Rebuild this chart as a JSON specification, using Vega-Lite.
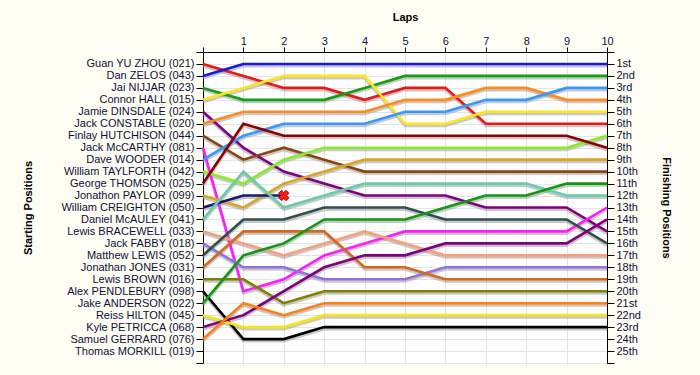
{
  "$schema": "https://vega.github.io/schema/vega-lite/v6.json",
  "autosize": "none",
  "width": 404,
  "height": 311,
  "padding": {"left": 203, "top": 52, "right": 93, "bottom": 12},
  "background": "#fdfdf3",
  "config": {
    "view": {"stroke": null, "fill": "#ffffff"},
    "axis": {"labelFont": "Liberation Sans", "labelFontSize": 11, "labelColor": "#10103a", "titleFont": "Liberation Sans", "titleFontSize": 11, "titleFontWeight": "bold", "titleColor": "#000000", "domainColor": "#000000", "tickColor": "#000000", "gridColor": "#e4e4e4", "gridWidth": 1}
  },
  "datasets": {
    "laps": [
      {"d":"021","l":0,"p":1},{"d":"021","l":1,"p":2},{"d":"021","l":2,"p":3},{"d":"021","l":3,"p":3},{"d":"021","l":4,"p":4},{"d":"021","l":5,"p":3},{"d":"021","l":6,"p":3},{"d":"021","l":7,"p":6},{"d":"021","l":8,"p":6},{"d":"021","l":9,"p":6},{"d":"021","l":10,"p":6},
      {"d":"043","l":0,"p":2},{"d":"043","l":1,"p":1},{"d":"043","l":2,"p":1},{"d":"043","l":3,"p":1},{"d":"043","l":4,"p":1},{"d":"043","l":5,"p":1},{"d":"043","l":6,"p":1},{"d":"043","l":7,"p":1},{"d":"043","l":8,"p":1},{"d":"043","l":9,"p":1},{"d":"043","l":10,"p":1},
      {"d":"023","l":0,"p":3},{"d":"023","l":1,"p":4},{"d":"023","l":2,"p":4},{"d":"023","l":3,"p":4},{"d":"023","l":4,"p":3},{"d":"023","l":5,"p":2},{"d":"023","l":6,"p":2},{"d":"023","l":7,"p":2},{"d":"023","l":8,"p":2},{"d":"023","l":9,"p":2},{"d":"023","l":10,"p":2},
      {"d":"015","l":0,"p":4},{"d":"015","l":1,"p":3},{"d":"015","l":2,"p":2},{"d":"015","l":3,"p":2},{"d":"015","l":4,"p":2},{"d":"015","l":5,"p":6},{"d":"015","l":6,"p":6},{"d":"015","l":7,"p":5},{"d":"015","l":8,"p":5},{"d":"015","l":9,"p":5},{"d":"015","l":10,"p":5},
      {"d":"024","l":0,"p":5},{"d":"024","l":1,"p":8},{"d":"024","l":2,"p":10},{"d":"024","l":3,"p":11},{"d":"024","l":4,"p":12},{"d":"024","l":5,"p":12},{"d":"024","l":6,"p":12},{"d":"024","l":7,"p":13},{"d":"024","l":8,"p":13},{"d":"024","l":9,"p":13},{"d":"024","l":10,"p":15},
      {"d":"020","l":0,"p":6},{"d":"020","l":1,"p":5},{"d":"020","l":2,"p":5},{"d":"020","l":3,"p":5},{"d":"020","l":4,"p":5},{"d":"020","l":5,"p":4},{"d":"020","l":6,"p":4},{"d":"020","l":7,"p":3},{"d":"020","l":8,"p":3},{"d":"020","l":9,"p":4},{"d":"020","l":10,"p":4},
      {"d":"044","l":0,"p":7},{"d":"044","l":1,"p":9},{"d":"044","l":2,"p":8},{"d":"044","l":3,"p":9},{"d":"044","l":4,"p":10},{"d":"044","l":5,"p":10},{"d":"044","l":6,"p":10},{"d":"044","l":7,"p":10},{"d":"044","l":8,"p":10},{"d":"044","l":9,"p":10},{"d":"044","l":10,"p":10},
      {"d":"081","l":0,"p":8},{"d":"081","l":1,"p":20},{"d":"081","l":2,"p":19},{"d":"081","l":3,"p":17},{"d":"081","l":4,"p":16},{"d":"081","l":5,"p":15},{"d":"081","l":6,"p":15},{"d":"081","l":7,"p":15},{"d":"081","l":8,"p":15},{"d":"081","l":9,"p":15},{"d":"081","l":10,"p":13},
      {"d":"014","l":0,"p":9},{"d":"014","l":1,"p":7},{"d":"014","l":2,"p":6},{"d":"014","l":3,"p":6},{"d":"014","l":4,"p":6},{"d":"014","l":5,"p":5},{"d":"014","l":6,"p":5},{"d":"014","l":7,"p":4},{"d":"014","l":8,"p":4},{"d":"014","l":9,"p":3},{"d":"014","l":10,"p":3},
      {"d":"042","l":0,"p":10},{"d":"042","l":1,"p":11},{"d":"042","l":2,"p":9},{"d":"042","l":3,"p":8},{"d":"042","l":4,"p":8},{"d":"042","l":5,"p":8},{"d":"042","l":6,"p":8},{"d":"042","l":7,"p":8},{"d":"042","l":8,"p":8},{"d":"042","l":9,"p":8},{"d":"042","l":10,"p":7},
      {"d":"025","l":0,"p":11},{"d":"025","l":1,"p":6},{"d":"025","l":2,"p":7},{"d":"025","l":3,"p":7},{"d":"025","l":4,"p":7},{"d":"025","l":5,"p":7},{"d":"025","l":6,"p":7},{"d":"025","l":7,"p":7},{"d":"025","l":8,"p":7},{"d":"025","l":9,"p":7},{"d":"025","l":10,"p":8},
      {"d":"099","l":0,"p":12},{"d":"099","l":1,"p":13},{"d":"099","l":2,"p":11},{"d":"099","l":3,"p":10},{"d":"099","l":4,"p":9},{"d":"099","l":5,"p":9},{"d":"099","l":6,"p":9},{"d":"099","l":7,"p":9},{"d":"099","l":8,"p":9},{"d":"099","l":9,"p":9},{"d":"099","l":10,"p":9},
      {"d":"050","l":0,"p":13},{"d":"050","l":1,"p":12},{"d":"050","l":2,"p":12},
      {"d":"041","l":0,"p":14},{"d":"041","l":1,"p":10},{"d":"041","l":2,"p":13},{"d":"041","l":3,"p":12},{"d":"041","l":4,"p":11},{"d":"041","l":5,"p":11},{"d":"041","l":6,"p":11},{"d":"041","l":7,"p":11},{"d":"041","l":8,"p":11},{"d":"041","l":9,"p":12},{"d":"041","l":10,"p":12},
      {"d":"033","l":0,"p":15},{"d":"033","l":1,"p":16},{"d":"033","l":2,"p":17},{"d":"033","l":3,"p":16},{"d":"033","l":4,"p":15},{"d":"033","l":5,"p":16},{"d":"033","l":6,"p":17},{"d":"033","l":7,"p":17},{"d":"033","l":8,"p":17},{"d":"033","l":9,"p":17},{"d":"033","l":10,"p":17},
      {"d":"018","l":0,"p":16},{"d":"018","l":1,"p":18},{"d":"018","l":2,"p":18},{"d":"018","l":3,"p":19},{"d":"018","l":4,"p":19},{"d":"018","l":5,"p":19},{"d":"018","l":6,"p":18},{"d":"018","l":7,"p":18},{"d":"018","l":8,"p":18},{"d":"018","l":9,"p":18},{"d":"018","l":10,"p":18},
      {"d":"052","l":0,"p":17},{"d":"052","l":1,"p":14},{"d":"052","l":2,"p":14},{"d":"052","l":3,"p":13},{"d":"052","l":4,"p":13},{"d":"052","l":5,"p":13},{"d":"052","l":6,"p":14},{"d":"052","l":7,"p":14},{"d":"052","l":8,"p":14},{"d":"052","l":9,"p":14},{"d":"052","l":10,"p":16},
      {"d":"031","l":0,"p":18},{"d":"031","l":1,"p":15},{"d":"031","l":2,"p":15},{"d":"031","l":3,"p":15},{"d":"031","l":4,"p":18},{"d":"031","l":5,"p":18},{"d":"031","l":6,"p":19},{"d":"031","l":7,"p":19},{"d":"031","l":8,"p":19},{"d":"031","l":9,"p":19},{"d":"031","l":10,"p":19},
      {"d":"016","l":0,"p":19},{"d":"016","l":1,"p":19},{"d":"016","l":2,"p":21},{"d":"016","l":3,"p":20},{"d":"016","l":4,"p":20},{"d":"016","l":5,"p":20},{"d":"016","l":6,"p":20},{"d":"016","l":7,"p":20},{"d":"016","l":8,"p":20},{"d":"016","l":9,"p":20},{"d":"016","l":10,"p":20},
      {"d":"098","l":0,"p":20},{"d":"098","l":1,"p":24},{"d":"098","l":2,"p":24},{"d":"098","l":3,"p":23},{"d":"098","l":4,"p":23},{"d":"098","l":5,"p":23},{"d":"098","l":6,"p":23},{"d":"098","l":7,"p":23},{"d":"098","l":8,"p":23},{"d":"098","l":9,"p":23},{"d":"098","l":10,"p":23},
      {"d":"022","l":0,"p":21},{"d":"022","l":1,"p":17},{"d":"022","l":2,"p":16},{"d":"022","l":3,"p":14},{"d":"022","l":4,"p":14},{"d":"022","l":5,"p":14},{"d":"022","l":6,"p":13},{"d":"022","l":7,"p":12},{"d":"022","l":8,"p":12},{"d":"022","l":9,"p":11},{"d":"022","l":10,"p":11},
      {"d":"045","l":0,"p":22},{"d":"045","l":1,"p":23},{"d":"045","l":2,"p":23},{"d":"045","l":3,"p":22},{"d":"045","l":4,"p":22},{"d":"045","l":5,"p":22},{"d":"045","l":6,"p":22},{"d":"045","l":7,"p":22},{"d":"045","l":8,"p":22},{"d":"045","l":9,"p":22},{"d":"045","l":10,"p":22},
      {"d":"068","l":0,"p":23},{"d":"068","l":1,"p":22},{"d":"068","l":2,"p":20},{"d":"068","l":3,"p":18},{"d":"068","l":4,"p":17},{"d":"068","l":5,"p":17},{"d":"068","l":6,"p":16},{"d":"068","l":7,"p":16},{"d":"068","l":8,"p":16},{"d":"068","l":9,"p":16},{"d":"068","l":10,"p":14},
      {"d":"076","l":0,"p":24},{"d":"076","l":1,"p":21},{"d":"076","l":2,"p":22},{"d":"076","l":3,"p":21},{"d":"076","l":4,"p":21},{"d":"076","l":5,"p":21},{"d":"076","l":6,"p":21},{"d":"076","l":7,"p":21},{"d":"076","l":8,"p":21},{"d":"076","l":9,"p":21},{"d":"076","l":10,"p":21}
    ],
    "retired": [{"d":"050","l":2,"p":12}]
  },
  "layer": [
    {
      "data": {"name": "laps"},
      "mark": {"type": "line", "strokeWidth": 3, "color": "#9a9a9a", "opacity": 0.55},
      "encoding": {
        "x": {"field": "l", "type": "quantitative", "scale": {"domain": [0, 10], "nice": false, "zero": false}},
        "y": {"field": "p", "type": "quantitative", "scale": {"domain": [0, 26], "range": [2, 313], "nice": false, "zero": false}, "axis": null},
        "detail": {"field": "d", "type": "nominal"},
        "order": {"field": "l", "type": "quantitative"}
      }
    },
    {
      "data": {"name": "laps"},
      "mark": {"type": "line", "strokeWidth": 2.6},
      "encoding": {
        "x": {"field": "l", "type": "quantitative", "scale": {"domain": [0, 10], "nice": false, "zero": false},
          "axis": {"orient": "top", "values": [0,1,2,3,4,5,6,7,8,9,10], "labelExpr": "datum.value == 0 ? '' : datum.value", "title": "Laps", "titleY": -35, "titleBaseline": "middle", "grid": true, "tickSize": 5, "labelPadding": 1, "labelFlush": false}},
        "y": {"field": "p", "type": "quantitative", "scale": {"domain": [0, 26], "reverse": true, "nice": false, "zero": false},
          "axis": {"orient": "left", "values": [0,1,2,3,4,5,6,7,8,9,10,11,12,13,14,15,16,17,18,19,20,21,22,23,24,25,26],
            "labelExpr": "datum.value >= 1 && datum.value <= 25 ? ['Guan YU ZHOU (021)','Dan ZELOS (043)','Jai NIJJAR (023)','Connor HALL (015)','Jamie DINSDALE (024)','Jack CONSTABLE (020)','Finlay HUTCHISON (044)','Jack McCARTHY (081)','Dave WOODER (014)','William TAYLFORTH (042)','George THOMSON (025)','Jonathon PAYLOR (099)','William CREIGHTON (050)','Daniel McAULEY (041)','Lewis BRACEWELL (033)','Jack FABBY (018)','Matthew LEWIS (052)','Jonathan JONES (031)','Lewis BROWN (016)','Alex PENDLEBURY (098)','Jake ANDERSON (022)','Reiss HILTON (045)','Kyle PETRICCA (068)','Samuel GERRARD (076)','Thomas MORKILL (019)'][datum.value - 1] : ''",
            "labelLimit": 300, "labelFlush": false, "labelOverlap": false, "grid": true, "tickSize": 7, "labelPadding": 2,
            "title": "Starting Positions", "titleAngle": -90, "titleX": -175, "titleY": 155.5, "titleAlign": "center", "titleBaseline": "middle"}},
        "color": {"field": "d", "type": "nominal", "legend": null,
          "scale": {"domain": ["021","043","023","015","024","020","044","081","014","042","025","099","050","041","033","018","052","031","016","098","022","045","068","076"],
            "range": ["#e81818","#1818e0","#12a012","#ffe61a","#800080","#ff8c1a","#8b4513","#ff1aff","#3399ff","#88ee22","#8b0000","#daa520","#191970","#66cdaa","#f8a07c","#9370db","#2f4f4f","#d2691e","#808000","#000000","#0e9a0e","#f5e61a","#800080","#ff7f10"]}},
        "order": {"field": "l", "type": "quantitative"}
      }
    },
    {
      "data": {"name": "retired"},
      "mark": {"type": "point", "shape": "cross", "angle": 45, "size": 110, "filled": true, "fill": "#ff1a1a", "stroke": "#7a0000", "strokeWidth": 0.8, "opacity": 1},
      "encoding": {
        "x": {"field": "l", "type": "quantitative", "scale": {"domain": [0, 10], "nice": false, "zero": false}},
        "y": {"field": "p", "type": "quantitative", "scale": {"domain": [0, 26], "reverse": true, "nice": false, "zero": false},
          "axis": {"orient": "right", "values": [0,1,2,3,4,5,6,7,8,9,10,11,12,13,14,15,16,17,18,19,20,21,22,23,24,25,26],
            "labelExpr": "datum.value >= 1 && datum.value <= 25 ? datum.value + ((datum.value == 1 || datum.value == 21) ? 'st' : (datum.value == 2 || datum.value == 22) ? 'nd' : (datum.value == 3 || datum.value == 23) ? 'rd' : 'th') : ''",
            "labelFlush": false, "labelOverlap": false, "grid": false, "tickSize": 7, "labelPadding": 2,
            "title": "Finishing Positions", "titleAngle": 90, "titleX": 58, "titleY": 155.5, "titleAlign": "center", "titleBaseline": "middle"}}
      }
    }
  ],
  "resolve": {"scale": {"y": "independent"}, "axis": {"y": "independent"}}
}
